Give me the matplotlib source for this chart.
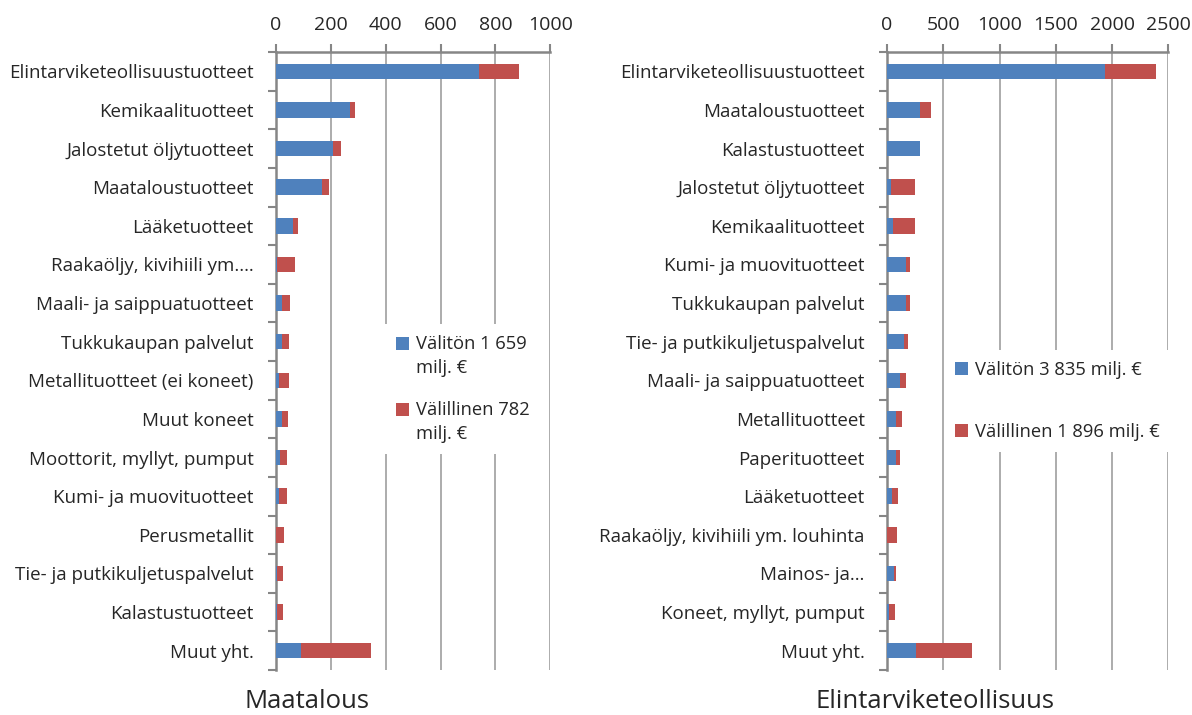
import numpy as np
import matplotlib.pyplot as plt
from matplotlib.ticker import FixedLocator
from matplotlib.patches import Rectangle
from matplotlib.legend_handler import HandlerPatch

plt.rcParams['font.family'] = ['Open Sans', 'DejaVu Sans']

# Maatalous
cats_a = ["Elintarviketeollisuustuotteet", "Kemikaalituotteet", "Jalostetut öljytuotteet",
          "Maataloustuotteet", "Lääketuotteet", "Raakaöljy, kivihiili ym.…",
          "Maali- ja saippuatuotteet", "Tukkukaupan palvelut", "Metallituotteet (ei koneet)",
          "Muut koneet", "Moottorit, myllyt, pumput", "Kumi- ja muovituotteet",
          "Perusmetallit", "Tie- ja putkikuljetuspalvelut", "Kalastustuotteet", "Muut yht."]
direct_a = [741, 270, 207, 169, 63, 3, 22, 22, 12, 23, 16, 11, 1, 2, 2, 92]
indirect_a = [146, 18, 29, 23, 17, 66, 29, 25, 35, 20, 25, 29, 29, 25, 23, 253]

# Elintarviketeollisuus
cats_b = ["Elintarviketeollisuustuotteet", "Maataloustuotteet", "Kalastustuotteet",
          "Jalostetut öljytuotteet", "Kemikaalituotteet", "Kumi- ja muovituotteet",
          "Tukkukaupan palvelut", "Tie- ja putkikuljetuspalvelut", "Maali- ja saippuatuotteet",
          "Metallituotteet", "Paperituotteet", "Lääketuotteet",
          "Raakaöljy, kivihiili ym. louhinta", "Mainos- ja…", "Koneet, myllyt, pumput", "Muut yht."]
direct_b = [1940, 290, 290, 36, 56, 166, 169, 154, 113, 83, 83, 44, 2, 62, 21, 260]
indirect_b = [448, 101, 4, 213, 193, 41, 38, 33, 59, 50, 33, 54, 90, 15, 47, 493]

ticks_a = [0, 200, 400, 600, 800, 1000]
ticks_b = [0, 500, 1000, 1500, 2000, 2500]

BLUE = "#4F81BD"
RED = "#C0504D"
GRID = "#a6a6a6"
SPINE = "#868686"
TXT = "#262626"

fig = plt.figure(figsize=(11.92, 7.15), dpi=100)
axA = fig.add_axes([276 / 1192, 45 / 715, 274.3 / 1192, 618 / 715])
axB = fig.add_axes([887 / 1192, 45 / 715, 281.3 / 1192, 618 / 715])


def square_handler(shift):
    # square handle, moved up to sit on the first text line
    def make(legend, orig_handle, xdescent, ydescent, width, height, fontsize):
        s = 0.7 * fontsize
        return Rectangle((-xdescent, -ydescent + (height - s) / 2 + shift), s, s)
    return HandlerPatch(patch_func=make)


def draw(ax, cats, d, i, ticks, lab_d, lab_i, leg_xy, spacing, shift):
    y = np.arange(len(cats))
    b1 = ax.barh(y, d, height=0.4, color=BLUE, zorder=3)
    b2 = ax.barh(y, i, left=d, height=0.4, color=RED, zorder=3)
    ax.set_ylim(len(cats) - 0.5, -0.5)
    ax.set_xlim(ticks[0], ticks[-1])
    ax.set_xticks(ticks)
    ax.set_yticks(y)
    ax.set_yticklabels(cats)
    ax.yaxis.set_minor_locator(FixedLocator(np.arange(len(cats) + 1) - 0.5))
    ax.xaxis.tick_top()
    ax.tick_params(axis='x', which='major', length=6, width=1.5, color=SPINE,
                   labelsize=14, pad=7, labelcolor=TXT)
    ax.tick_params(axis='y', which='major', length=0, pad=16, labelsize=13.5,
                   labelcolor=TXT)
    ax.tick_params(axis='y', which='minor', length=6, width=1.5, color=SPINE)
    ax.grid(axis='x', color=GRID, lw=1.3, zorder=0)
    for s in ['right', 'bottom']:
        ax.spines[s].set_visible(False)
    for s in ['left', 'top']:
        ax.spines[s].set_color(SPINE)
        ax.spines[s].set_linewidth(1.8)
    leg = ax.legend([b1.patches[0], b2.patches[0]], [lab_d, lab_i],
                    loc='upper left', bbox_to_anchor=leg_xy, frameon=True,
                    fancybox=False, framealpha=1, edgecolor='none', facecolor='white',
                    fontsize=13.2, handlelength=0.7, handleheight=0.7,
                    handletextpad=0.4, labelspacing=spacing, borderpad=0.6,
                    labelcolor=TXT, handler_map={Rectangle: square_handler(shift)})
    for t in leg.get_texts():
        t.set_linespacing(1.45)
    leg.set_zorder(5)


draw(axA, cats_a, direct_a, indirect_a, ticks_a,
     "Välitön 1 659\nmilj. €", "Välillinen 782\nmilj. €", (0.365, 0.575), 1.3, 9.5)
draw(axB, cats_b, direct_b, indirect_b, ticks_b,
     "Välitön 3 835 milj. €", "Välillinen 1 896 milj. €", (0.169, 0.533), 2.4, 0)

fig.text(307 / 1192, 1 - 702 / 715, "Maatalous", ha='center', va='center',
         fontsize=18.5, color=TXT)
fig.text(935 / 1192, 1 - 702 / 715, "Elintarviketeollisuus", ha='center', va='center',
         fontsize=18.5, color=TXT)

fig.savefig("out.png", dpi=100)
